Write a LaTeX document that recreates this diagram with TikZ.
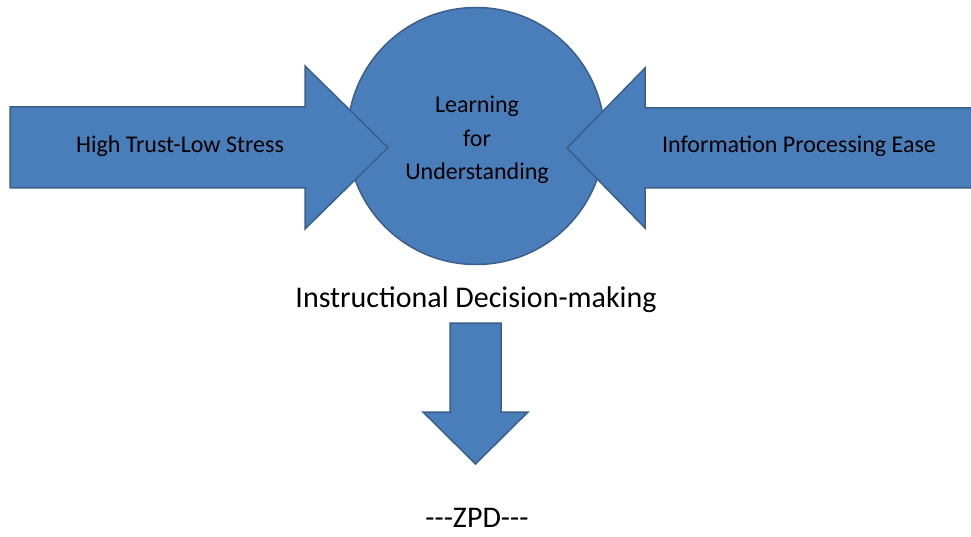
\documentclass[tikz,border=0pt]{standalone}
\usepackage{fontspec}
\setmainfont{Carlito}
\usetikzlibrary{positioning}
\definecolor{fillblue}{HTML}{4A7EBB}
\definecolor{lineblue}{HTML}{3A5F8B}

\begin{document}
\begin{tikzpicture}[x=1pt,y=-1pt,
    blockarrow/.style={fill=fillblue,draw=lineblue,line width=1.5pt},
    inlabel/.style={font=\fontsize{24}{33.5}\selectfont,align=center},
    outlabel/.style={font=\fontsize{30}{36}\selectfont}]
        \useasboundingbox (0,0) rectangle (971,537);
        % circle
        \node[circle,fill=fillblue,draw=lineblue,line width=1.5pt,minimum size=257pt,inner sep=0pt] (lfu) at (476,136) {};
        % left arrow
        \draw[blockarrow] (10,107) -- (305,107) -- (305,66) -- (388,147.5) -- (305,229) -- (305,188) -- (10,188) -- cycle;
        % right arrow
        \draw[blockarrow] (975,108) -- (645,108) -- (645,68) -- (567,148) -- (645,228) -- (645,188) -- (975,188) -- cycle;
        % down arrow
        \draw[blockarrow] (450,323) -- (501,323) -- (501,412) -- (528,412) -- (475.5,464) -- (423,412) -- (450,412) -- cycle;
        % labels
        \node[inlabel] (lfutext) at (477,140) {Learning\\for\\Understanding};
        \node[inlabel,anchor=base] (trust) at (180,153) {High Trust-Low Stress};
        \node[inlabel,anchor=base] (ease) at (799,153) {Information Processing Ease};
        \node[outlabel,anchor=base] (idm) at (476,307) {Instructional Decision-making};
        \node[outlabel,anchor=base] (zpd) at (477,527) {{-}{-}{-}ZPD{-}{-}{-}};
\end{tikzpicture}
\end{document}
